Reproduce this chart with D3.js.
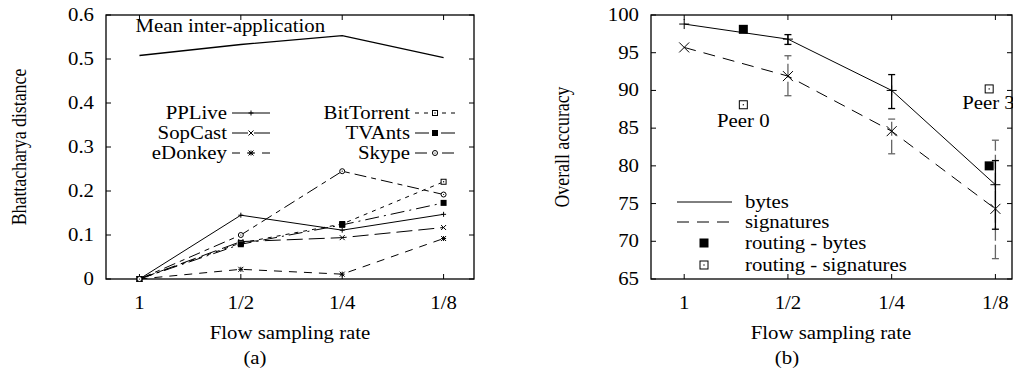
<!DOCTYPE html>
<html><head><meta charset="utf-8">
<script src="https://cdn.jsdelivr.net/npm/d3@7"></script>
</head>
<body style="margin:0;padding:0;background:#fff">
<svg id="chart" width="1013" height="371" font-family="Liberation Serif" style="display:block"></svg>
<script>
// ---------- DATA (a) ----------
const rates = ["1", "1/2", "1/4", "1/8"];
const distTicks = [0, 0.1, 0.2, 0.3, 0.4, 0.5, 0.6];
const meanInter = [0.508, 0.533, 0.553, 0.503];
const ppLive = [0, 0.145, 0.111, 0.147];
const sopCast = [0, 0.085, 0.094, 0.117];
const eDonkey = [0, 0.022, 0.011, 0.092];
const bitTorrent = [0, 0.082, 0.125, 0.221];
const tvAnts = [0, 0.079, 0.123, 0.173];
const skype = [0, 0.100, 0.245, 0.192];
// ---------- DATA (b) ----------
const accTicks = [65, 70, 75, 80, 85, 90, 95, 100];
const bytesAcc = [98.8, 96.8, 90.0, 77.5];
const bytesLo = [null, 96.1, 87.6, 71.6];
const bytesHi = [null, 97.4, 92.1, 80.7];
const sigAcc = [95.7, 91.9, 84.6, 74.3];
const sigLo = [null, 89.3, 81.6, 67.7];
const sigHi = [null, 94.6, 86.2, 83.4];
const routingX = [0.57, 2.94];
const routingBytes = [98.1, 80.0];
const routingSig = [88.1, 90.2];
const peerLabels = ["Peer 0", "Peer 3"];

const svg = d3.select("#chart");
const SX = 1.17, FS = 17.8;

function txt(g, x, y, s, anchor, size) {
  return g.append("text")
    .attr("transform", `translate(${x},${y}) scale(${SX},1)`)
    .attr("text-anchor", anchor || "start")
    .attr("font-family", "Liberation Serif")
    .attr("font-size", size || FS)
    .attr("fill", "#000")
    .text(s);
}
function vtxt(g, x, y, s) {
  return g.append("text")
    .attr("transform", `translate(${x},${y}) rotate(-90) scale(1,${SX})`)
    .attr("text-anchor", "middle")
    .attr("font-family", "Liberation Serif")
    .attr("font-size", FS)
    .attr("fill", "#000")
    .text(s);
}

function frame(g, x, y, xTickVals, yTickVals, yFmt, xLab) {
  const [x0, x1] = x.range(), [y0, y1] = y.range();
  g.append("rect").attr("x", x0).attr("y", y1).attr("width", x1 - x0).attr("height", y0 - y1)
    .attr("fill", "none").attr("stroke", "#000").attr("stroke-width", 1.3);
  const tl = 5;
  yTickVals.forEach(v => {
    const yy = y(v);
    g.append("line").attr("x1", x0).attr("x2", x0 + tl).attr("y1", yy).attr("y2", yy).attr("stroke", "#000");
    g.append("line").attr("x1", x1).attr("x2", x1 - tl).attr("y1", yy).attr("y2", yy).attr("stroke", "#000");
    txt(g, x0 - 12, yy + 6, yFmt(v), "end");
  });
  xTickVals.forEach((v, i) => {
    const xx = x(v);
    g.append("line").attr("x1", xx).attr("x2", xx).attr("y1", y0).attr("y2", y0 - tl).attr("stroke", "#000");
    g.append("line").attr("x1", xx).attr("x2", xx).attr("y1", y1).attr("y2", y1 + tl).attr("stroke", "#000");
    txt(g, xx, y0 + 30, xLab[i], "middle");
  });
}

function marker(g, type, cx, cy, r) {
  const p = d3.path();
  if (type === "plus" || type === "star") {
    p.moveTo(cx - r, cy); p.lineTo(cx + r, cy); p.moveTo(cx, cy - r); p.lineTo(cx, cy + r);
  }
  if (type === "cross" || type === "star") {
    p.moveTo(cx - r, cy - r); p.lineTo(cx + r, cy + r); p.moveTo(cx - r, cy + r); p.lineTo(cx + r, cy - r);
  }
  if (type === "plus" || type === "cross" || type === "star") {
    g.append("path").attr("d", p.toString()).attr("stroke", "#000").attr("stroke-width", 1).attr("fill", "none");
  } else if (type === "sq") {
    g.append("rect").attr("x", cx - r).attr("y", cy - r).attr("width", 2 * r).attr("height", 2 * r)
      .attr("fill", "#fff").attr("stroke", "#000").attr("stroke-width", 1);
    g.append("rect").attr("x", cx - 0.6).attr("y", cy - 0.6).attr("width", 1.2).attr("height", 1.2).attr("fill", "#000");
  } else if (type === "fsq") {
    g.append("rect").attr("x", cx - r).attr("y", cy - r).attr("width", 2 * r).attr("height", 2 * r).attr("fill", "#000");
  } else if (type === "circ") {
    g.append("circle").attr("cx", cx).attr("cy", cy).attr("r", r).attr("fill", "#fff").attr("stroke", "#000").attr("stroke-width", 1);
    g.append("circle").attr("cx", cx).attr("cy", cy).attr("r", 0.6).attr("fill", "#000");
  }
}

// ================= (a) =================
const gA = svg.append("g");
const xA = d3.scaleLinear().domain([-0.33, 3.3]).range([106, 474]);
const yA = d3.scaleLinear().domain([0, 0.6]).range([279, 15]);
frame(gA, xA, yA, [0, 1, 2, 3], distTicks, v => v === 0 ? "0" : d3.format(".1f")(v), rates);

const lineA = d3.line().x((d, i) => xA(i)).y(d => yA(d));
gA.append("path").attr("d", lineA(meanInter)).attr("fill", "none").attr("stroke", "#000").attr("stroke-width", 1.3);
txt(gA, xA(0) - 4, 32, "Mean inter-application", "start");

const seriesA = [
  { name: "PPLive", v: ppLive, dash: null, m: "plus", col: 0, row: 0 },
  { name: "SopCast", v: sopCast, dash: "16,6", m: "cross", col: 0, row: 1 },
  { name: "eDonkey", v: eDonkey, dash: "8,7", m: "star", col: 0, row: 2 },
  { name: "BitTorrent", v: bitTorrent, dash: "4,5", m: "sq", col: 1, row: 0 },
  { name: "TVAnts", v: tvAnts, dash: "14,5,2,5", m: "fsq", col: 1, row: 1 },
  { name: "Skype", v: skype, dash: "12,5,5,5", m: "circ", col: 1, row: 2 }
];
const legRowsA = [113, 133, 153];
const legColsA = [{ tx: 227, s0: 232, s1: 270 }, { tx: 410, s0: 415, s1: 455 }];
seriesA.forEach(s => {
  gA.append("path").attr("d", lineA(s.v)).attr("fill", "none").attr("stroke", "#000")
    .attr("stroke-width", 1).attr("stroke-dasharray", s.dash);
  s.v.forEach((d, i) => marker(gA, s.m, xA(i), yA(d), s.m === "fsq" ? 3 : 2.5));
  const c = legColsA[s.col], yy = legRowsA[s.row];
  txt(gA, c.tx, yy + 6, s.name, "end");
  gA.append("line").attr("x1", c.s0).attr("x2", c.s1).attr("y1", yy).attr("y2", yy)
    .attr("stroke", "#000").attr("stroke-dasharray", s.dash);
  marker(gA, s.m, (c.s0 + c.s1) / 2, yy, s.m === "fsq" ? 3 : 2.5);
});
txt(gA, 290, 339, "Flow sampling rate", "middle");
txt(gA, 255, 364, "(a)", "middle");
vtxt(gA, 26, 147, "Bhattacharya distance");

// ================= (b) =================
const gB = svg.append("g");
const xB = d3.scaleLinear().domain([-0.32, 3.16]).range([651, 1012]);
const yB = d3.scaleLinear().domain([65, 100]).range([279, 15]);
frame(gB, xB, yB, [0, 1, 2, 3], accTicks, v => String(v), rates);
const lineB = d3.line().x((d, i) => xB(i)).y(d => yB(d));

function errBars(lo, hi, col, dash) {
  lo.forEach((l, i) => {
    if (l === null) return;
    const xx = xB(i), cw = 3.5;
    gB.append("line").attr("x1", xx).attr("x2", xx).attr("y1", yB(l)).attr("y2", yB(hi[i])).attr("stroke", col)
      .attr("stroke-width", 1.3).attr("stroke-dasharray", dash);
    gB.append("line").attr("x1", xx - cw).attr("x2", xx + cw).attr("y1", yB(l)).attr("y2", yB(l)).attr("stroke", col).attr("stroke-width", 1.3);
    gB.append("line").attr("x1", xx - cw).attr("x2", xx + cw).attr("y1", yB(hi[i])).attr("y2", yB(hi[i])).attr("stroke", col).attr("stroke-width", 1.3);
  });
}
gB.append("path").attr("d", lineB(sigAcc)).attr("fill", "none").attr("stroke", "#000").attr("stroke-dasharray", "12,8");
errBars(sigLo, sigHi, "#666", "14,4");
sigAcc.forEach((d, i) => marker(gB, "cross", xB(i), yB(d), 5));
gB.append("path").attr("d", lineB(bytesAcc)).attr("fill", "none").attr("stroke", "#000");
errBars(bytesLo, bytesHi, "#000", null);
bytesAcc.forEach((d, i) => marker(gB, "plus", xB(i), yB(d), 5));

routingX.forEach((rx, i) => {
  marker(gB, "fsq", xB(rx), yB(routingBytes[i]), 4.5);
  marker(gB, "sq", xB(rx), yB(routingSig[i]), 4);
});
txt(gB, xB(routingX[0]), yB(routingSig[0]) + 22, peerLabels[0], "middle");
txt(gB, xB(routingX[1]) - 27, yB(routingSig[1]) + 20, peerLabels[1], "start");

const legB = [
  { name: "bytes", kind: "line", dash: null },
  { name: "signatures", kind: "line", dash: "12,8" },
  { name: "routing - bytes", kind: "fsq" },
  { name: "routing - signatures", kind: "sq" }
];
const legRowsB = [202, 222, 243, 265];
legB.forEach((l, i) => {
  const yy = legRowsB[i];
  if (l.kind === "line") {
    gB.append("line").attr("x1", 677).attr("x2", 732).attr("y1", yy).attr("y2", yy).attr("stroke", "#000").attr("stroke-dasharray", l.dash);
  } else {
    marker(gB, l.kind, 704, yy, l.kind === "fsq" ? 4.5 : 4);
  }
  txt(gB, 745, yy + 6, l.name, "start");
});
txt(gB, 831, 339, "Flow sampling rate", "middle");
txt(gB, 787, 364, "(b)", "middle");
vtxt(gB, 569, 147, "Overall accuracy");
</script>
</body></html>
